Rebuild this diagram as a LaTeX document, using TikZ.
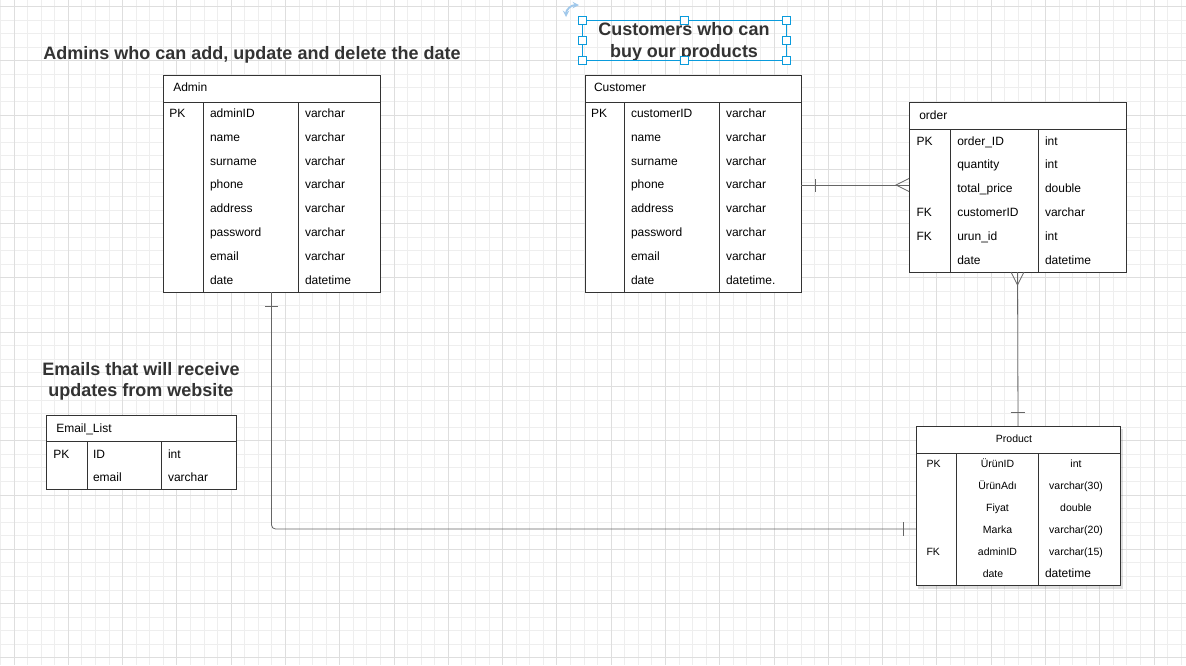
\documentclass[tikz,border=0pt]{standalone}
\usepackage{fontspec}
\setmainfont{Liberation Sans}
\usetikzlibrary{arrows}

\definecolor{gridmin}{RGB}{238,238,238}
\definecolor{gridmaj}{RGB}{222,222,222}
\definecolor{selblue}{RGB}{10,155,220}
\definecolor{rotblue}{RGB}{160,200,235}
\definecolor{titlegray}{RGB}{51,51,51}

\begin{document}
\begin{tikzpicture}[x=1pt,y=-1pt]
\tikzstyle{every node}=[inner sep=0pt, outer sep=0pt, font=\fontsize{12}{14}\selectfont]
\tikzstyle{tbl}=[draw=black!80, fill=white, line width=.9pt, rectangle]
\tikzstyle{sep}=[draw=black!80, line width=.9pt]
\tikzstyle{rel}=[draw=black!60, line width=.8pt]
\tikzstyle{cell}=[anchor=base west]
\tikzstyle{ccell}=[anchor=base, font=\fontsize{10.5}{12}\selectfont]
\tikzstyle{title}=[anchor=base, align=center, text=titlegray, font=\fontsize{18}{21.5}\selectfont\bfseries]
\tikzstyle{handle}=[draw=selblue, fill=white, line width=.9pt, rectangle, minimum size=8pt]
\useasboundingbox (0,0) rectangle (1186,665);
\fill[white] (0,0) rectangle (1186,665);
% grid
\foreach \i in {0,...,87} \draw[gridmin, line width=.8pt] ({0.43+13.571*\i},0) -- ++(0,665);
\foreach \i in {0,...,48} \draw[gridmin, line width=.8pt] (0,{6.4+13.571*\i}) -- ++(1186,0);
\foreach \i in {0,...,21} \draw[gridmaj, line width=.8pt] ({14+54.284*\i},0) -- ++(0,665);
\foreach \i in {0,...,12} \draw[gridmaj, line width=.8pt] (0,{6.4+54.284*\i}) -- ++(1186,0);

% titles
\draw (252,59.3) node (adminTitle) [title] {Admins who can add, update and delete the date};
\draw (141,396.7) node (emailTitle) [title] {Emails that will receive\\updates from website};
\draw (684,57) node (custTitle) [title] {Customers who can\\buy our products};

% selection frame round the customer title
\draw[selblue, line width=.9pt] (582,20) rectangle (786,60);
\foreach \x/\y [count=\i] in {582/20,684/20,786/20,582/40,786/40,582/60,684/60,786/60}
  \draw (\x,\y) node (h\i) [handle] {};
\draw[rotblue, line width=1.8pt, stealth-stealth] (566,17) .. controls (566,10) and (571,5) .. (579,5);

% Admin
\draw (271.5,183.5) node (admin) [tbl, minimum width=217pt, minimum height=217pt] {};
\draw[sep] (163,102) -- (380,102);
\draw[sep] (203,102) -- (203,292);
\draw[sep] (298,102) -- (298,292);
\draw (173.3,91.5) node (adminHd) [cell] {Admin};
\foreach \k/\f/\t [count=\i] in {PK/adminID/varchar,{}/name/varchar,{}/surname/varchar,{}/phone/varchar,{}/address/varchar,{}/password/varchar,{}/email/varchar,{}/date/datetime}{
  \draw (169.3,{117.5+23.8*(\i-1)}) node (ak\i) [cell] {\k};
  \draw (210,{117.5+23.8*(\i-1)}) node (af\i) [cell] {\f};
  \draw (305,{117.5+23.8*(\i-1)}) node (at\i) [cell] {\t};
}

% Customer
\draw (693,183.5) node (customer) [tbl, minimum width=216pt, minimum height=217pt] {};
\draw[sep] (585,102) -- (801,102);
\draw[sep] (624.5,102) -- (624.5,292);
\draw[sep] (719.5,102) -- (719.5,292);
\draw (594,91.5) node (custHd) [cell] {Customer};
\foreach \k/\f/\t [count=\i] in {PK/customerID/varchar,{}/name/varchar,{}/surname/varchar,{}/phone/varchar,{}/address/varchar,{}/password/varchar,{}/email/varchar,{}/date/datetime.}{
  \draw (591,{117.5+23.8*(\i-1)}) node (ck\i) [cell] {\k};
  \draw (631,{117.5+23.8*(\i-1)}) node (cf\i) [cell] {\f};
  \draw (726,{117.5+23.8*(\i-1)}) node (ct\i) [cell] {\t};
}

% order
\draw (1017.5,187) node (order) [tbl, minimum width=217pt, minimum height=170pt] {};
\draw[sep] (909,129) -- (1126,129);
\draw[sep] (950.5,129) -- (950.5,272);
\draw[sep] (1038.5,129) -- (1038.5,272);
\draw (919.3,119.8) node (orderHd) [cell] {order};
\foreach \k/\f/\t [count=\i] in {PK/order\_ID/int,{}/quantity/int,{}/total\_price/double,FK/customerID/varchar,FK/urun\_id/int,{}/date/datetime}{
  \draw (916.5,{145+23.8*(\i-1)}) node (ok\i) [cell] {\k};
  \draw (957.3,{145+23.8*(\i-1)}) node (of\i) [cell] {\f};
  \draw (1045,{145+23.8*(\i-1)}) node (ot\i) [cell] {\t};
}

% Product
\fill[black, opacity=.12] (918,429) rectangle (1123,589);
\draw (1018,505.5) node (product) [tbl, minimum width=204pt, minimum height=159pt] {};
\draw[sep] (916,453.3) -- (1120,453.3);
\draw[sep] (956.7,453.3) -- (956.7,585);
\draw[sep] (1038.3,453.3) -- (1038.3,585);
\draw (1014,442.7) node (prodHd) [ccell] {Product};
\foreach \k/\f/\t [count=\i] in {PK/ÜrünID/int,{}/ÜrünAdı/varchar(30),{}/Fiyat/double,{}/Marka/varchar(20),FK/adminID/varchar(15)}{
  \draw (926.5,{467.3+22*(\i-1)}) node (pk\i) [ccell, anchor=base west] {\k};
  \draw (997.5,{467.3+22*(\i-1)}) node (pf\i) [ccell] {\f};
  \draw (1076,{467.3+22*(\i-1)}) node (pt\i) [ccell] {\t};
}
\draw (993,577.3) node (pf6) [ccell] {date};
\draw (1045,577.3) node (pt6) [cell] {datetime};

% Email_List
\draw (141.5,452) node (emails) [tbl, minimum width=190pt, minimum height=74pt] {};
\draw[sep] (46.5,441.5) -- (236.5,441.5);
\draw[sep] (87.3,441.5) -- (87.3,489);
\draw[sep] (161.7,441.5) -- (161.7,489);
\draw (56.3,432.3) node (emailHd) [cell] {Email\_List};
\draw (53.3,458.3) node (ek1) [cell] {PK};
\draw (93,458.3) node (ef1) [cell] {ID};
\draw (168,458.3) node (et1) [cell] {int};
\draw (93,481) node (ef2) [cell] {email};
\draw (168,481) node (et2) [cell] {varchar};

% relations
\coordinate (prodFK) at (916,529);
\draw[rel, rounded corners=4pt] (admin.south) |- (prodFK);
\draw[rel] (265,306) -- (278,306);
\draw[rel] (903,522) -- (903,536);

\coordinate (custRel) at (909,185);
\draw[rel] (customer.east |- custRel) -- (custRel);
\draw[rel] (815.7,179) -- (815.7,192);
\draw[rel] (909,178.5) -- (896,185) -- (909,191.5);

\draw[rel] (order.south) -- (product.north);
\draw[rel] (1011,272) -- (1017.5,285) -- (1024,272);
\draw[rel] (1010.5,412) -- (1024.5,412);
\end{tikzpicture}
\end{document}
